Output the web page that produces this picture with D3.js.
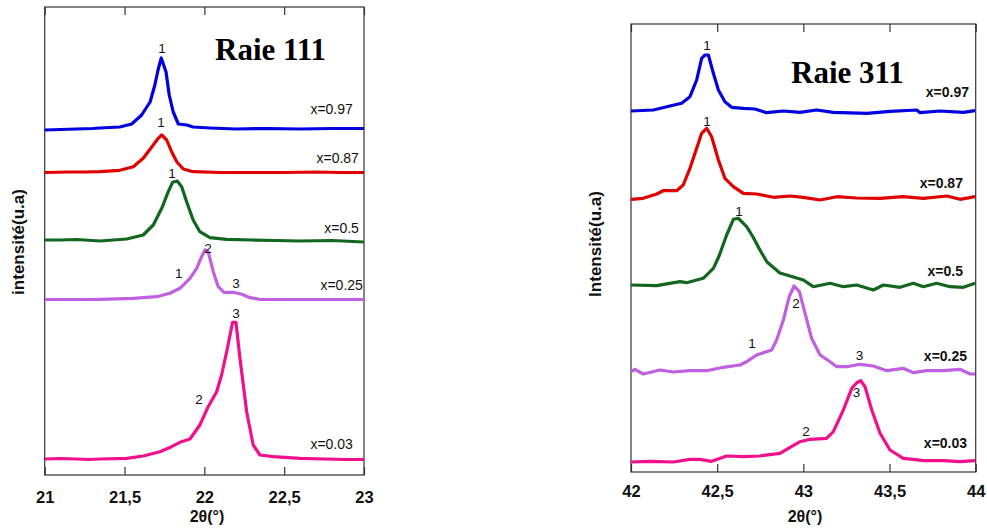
<!DOCTYPE html>
<html><head><meta charset="utf-8">
<script src="https://cdn.jsdelivr.net/npm/d3@7"></script>
<style>body{margin:0;background:#fff}svg{display:block}</style>
</head><body>
<svg id="c" width="987" height="529"></svg>
<script>
// ---------- DATA ----------
const seriesNames = ["x=0.97", "x=0.87", "x=0.5", "x=0.25", "x=0.03"];
const seriesColors = ["#0000e0", "#e00000", "#12661e", "#c060e0", "#f0108c"];

// Raie 111 : 2θ (°) / intensité (u.a, offset stacked)
const t111_097 = [21.0,21.1,21.2,21.3,21.346,21.47,21.545,21.607,21.66,21.69,21.71,21.73,21.76,21.78,21.805,21.837,21.89,21.93,22.035,22.2,22.4,22.6,22.8,23.0];
const i111_097 = [345,345.5,346,346.5,347,348,351,360,373,390,405,417,403,380,363,351,350,348,347,346,346.5,346,346.5,346.5];
const t111_087 = [21.0,21.15,21.25,21.346,21.47,21.555,21.617,21.68,21.711,21.733,21.764,21.795,21.827,21.868,21.93,22.1,22.3,22.5,22.7,22.85,23.0];
const i111_087 = [302.5,303,303,303.3,304.7,308.3,316.7,330,336.7,340,335,323.3,313.3,306,303.3,302.5,302.5,302.5,303,302.5,302.5];
const t111_05 = [21.0,21.1,21.2,21.346,21.513,21.617,21.68,21.733,21.774,21.801,21.83,21.858,21.889,21.93,21.972,22.035,22.14,22.3,22.45,22.6,22.8,23.0];
const i111_05 = [235,235,235.5,234,236,240,250,266.7,283.3,292.7,294,288.3,273.3,255,243.3,237.3,235.7,235,234.5,234,234.5,233];
const t111_025 = [21.0,21.15,21.3,21.346,21.555,21.701,21.785,21.847,21.91,21.952,21.983,22.004,22.024,22.056,22.087,22.123,22.181,22.234,22.286,22.348,22.5,22.7,22.85,23.0];
const i111_025 = [175.5,175.5,175.5,175.7,176.7,178.3,181.7,186.7,196.7,206.7,218.3,225,223.3,203.3,188.3,182.7,182.7,180.7,177.3,175.7,175.5,175.5,175.5,175.5];
const t111_003 = [21.0,21.1,21.2,21.28,21.346,21.513,21.617,21.722,21.795,21.847,21.91,21.972,22.024,22.077,22.108,22.14,22.177,22.198,22.223,22.265,22.306,22.348,22.431,22.6,22.75,22.9,23.0];
const i111_003 = [16,16.5,16,15.5,16,16.7,19,23.3,28.3,32.7,36,50,68.3,83.3,100,123.3,152.7,152.7,116.7,63.3,30,20,18.3,16.7,16,15.5,15.5];

// Raie 311
const t311_097 = [42.0,42.129,42.226,42.294,42.342,42.381,42.41,42.429,42.449,42.478,42.507,42.545,42.584,42.652,42.719,42.787,42.884,42.981,43.077,43.174,43.368,43.503,43.658,43.677,43.793,43.928,43.996];
const i311_097 = [361,362,366,368.7,375.3,392,413.7,417,417,398.7,382,370.3,364.7,363.7,363,359.3,361,359.7,362,359.7,358.7,360.7,362,359.3,361,359.7,361.3];
const t311_087 = [42.0,42.071,42.149,42.187,42.265,42.303,42.342,42.381,42.41,42.439,42.468,42.507,42.545,42.594,42.652,42.729,42.826,42.923,43.0,43.097,43.194,43.31,43.445,43.58,43.696,43.832,43.909,43.996];
const i311_087 = [272.7,273.7,278,281.3,281.3,287,303.7,323.7,338.7,343.7,335.3,312,293.7,285.3,278.7,278,274.7,276,274.7,272,275.3,274,273.7,275.3,273.7,276,272.7,275.3];
const t311_05 = [42.0,42.149,42.284,42.323,42.419,42.478,42.511,42.555,42.594,42.623,42.671,42.708,42.748,42.789,42.864,42.942,43.0,43.058,43.155,43.232,43.31,43.406,43.464,43.561,43.638,43.696,43.774,43.851,43.928,43.996];
const i311_05 = [187,186.3,190.3,189.3,193.7,203.7,216,237,252.7,253.7,245.3,235,222,210,199,195,192,185.3,188.7,185.3,187,182,187,184.7,188.7,185.3,188.7,185.3,184.7,188.7];
const t311_025 = [42.0,42.023,42.071,42.168,42.245,42.342,42.439,42.536,42.632,42.671,42.729,42.816,42.845,42.884,42.918,42.946,42.977,43.01,43.048,43.097,43.135,43.194,43.252,43.329,43.406,43.484,43.58,43.638,43.716,43.812,43.909,43.967,43.996];
const i311_025 = [100.3,102.7,98,102,100,101.3,101.3,104.7,107,110.3,117,122,132,152,175.3,186,180.3,158.7,133.7,117,112.7,105.3,105.3,107.7,106,101.3,103.7,99.3,101.3,101.3,102.7,98,98];
const t311_003 = [42.0,42.11,42.245,42.342,42.4,42.468,42.555,42.652,42.748,42.864,42.923,42.981,43.039,43.135,43.174,43.232,43.281,43.31,43.333,43.358,43.397,43.445,43.503,43.58,43.638,43.696,43.812,43.909,43.996];
const i311_003 = [10,10.7,10,12.7,12.7,10.7,16,15.3,16,18.7,24.7,30.3,32.7,33.7,40.3,62,83.7,89.3,91.3,85.3,62,38.7,22,13.7,12.7,11.3,11.3,10.3,11.3];

// tick labels
const ticks111 = [21, 21.5, 22, 22.5, 23];
const ticks311 = [42, 42.5, 43, 43.5, 44];

// peak annotations [2θ, intensité, label]
const peaks111 = [[21.735,422,"1"],[21.728,348,"1"],[21.797,297,"1"],[22.023,222,"2"],[21.84,197,"1"],[22.198,187,"3"],[22.198,157,"3"],[21.966,71,"2"]];
const peaks311 = [[42.441,422,"1"],[42.441,346,"1"],[42.627,256,"1"],[42.957,164,"2"],[42.702,124,"1"],[43.326,112,"3"],[43.309,75,"3"],[43.015,36,"2"]];
// series label anchors [2θ, intensité]
const labels111 = [[22.93,361],[22.968,312],[22.968,242],[22.993,185],[22.93,26]];
const labels311 = [[43.961,375],[43.926,284],[43.926,196],[43.95,111],[43.95,24]];

// ---------- DRAW ----------
const svg = d3.select("#c");
const fmt = d => String(d).replace(".", ",");
const SANS = "Liberation Sans, Arial, Helvetica, sans-serif";

function panel(cfg) {
  const x = d3.scaleLinear().domain(cfg.xdom).range([cfg.x0, cfg.x1]);
  const y = d3.scaleLinear().domain(cfg.ydom).range([cfg.y1, cfg.y0]);
  const g = svg.append("g");
  const clipId = "clip" + cfg.id;
  svg.append("clipPath").attr("id", clipId).append("rect")
    .attr("x", cfg.x0).attr("y", cfg.y0).attr("width", cfg.x1 - cfg.x0).attr("height", cfg.y1 - cfg.y0);

  // box
  g.append("rect").attr("x", cfg.x0).attr("y", cfg.y0).attr("width", cfg.x1 - cfg.x0)
    .attr("height", cfg.y1 - cfg.y0).attr("fill", "none").attr("stroke", "#333").attr("stroke-width", 1.2);

  // bottom axis
  const ax = g.append("g").attr("transform", `translate(0,${cfg.y1})`)
    .call(d3.axisBottom(x).tickValues(cfg.ticks).tickFormat(fmt).tickSizeInner(-8).tickSizeOuter(0).tickPadding(cfg.pad));
  ax.select(".domain").remove();
  ax.selectAll("line").attr("stroke", "#333").attr("stroke-width", 1.2);
  ax.selectAll("text").attr("font-family", SANS).attr("font-weight", "bold").attr("font-size", 16.5).attr("fill", "#111");
  // top axis
  const at = g.append("g").attr("transform", `translate(0,${cfg.y0})`)
    .call(d3.axisTop(x).tickValues(cfg.ticks).tickFormat("").tickSizeInner(-8).tickSizeOuter(0));
  at.select(".domain").remove();
  at.selectAll("line").attr("stroke", "#333").attr("stroke-width", 1.2);

  // curves
  const line = d3.line().x(d => x(d[0])).y(d => y(d[1])).curve(d3.curveLinear);
  const cg = g.append("g").attr("clip-path", `url(#${clipId})`);
  cfg.series.forEach((s, k) => {
    const pts = s[0].map((t, j) => [t, s[1][j]]);
    cg.append("path").datum(pts).attr("d", line).attr("fill", "none")
      .attr("stroke", seriesColors[k]).attr("stroke-width", 3.2).attr("stroke-linejoin", "round");
  });

  // peak labels
  cfg.peaks.forEach(p => {
    g.append("text").attr("x", x(p[0])).attr("y", y(p[1])).attr("text-anchor", "middle")
      .attr("font-family", SANS).attr("font-size", 13.5).attr("fill", "#111").text(p[2]);
  });
  // series labels
  cfg.labels.forEach((p, k) => {
    g.append("text").attr("x", x(p[0])).attr("y", y(p[1])).attr("text-anchor", "end")
      .attr("font-family", SANS).attr("font-size", 14)
      .attr("font-weight", cfg.boldLabels ? "bold" : "normal").attr("fill", "#111").text(seriesNames[k]);
  });

  // title
  g.append("text").attr("x", cfg.titleX).attr("y", cfg.titleY)
    .attr("font-family", "Liberation Serif, Times New Roman, serif").attr("font-weight", "bold")
    .attr("font-size", 31).attr("fill", "#000").text(cfg.title);
  // x axis title
  g.append("text").attr("x", cfg.xtX).attr("y", 522).attr("text-anchor", "middle")
    .attr("font-family", SANS).attr("font-weight", "bold")
    .attr("font-size", 16).attr("fill", "#111").text("2θ(°)");
  // y axis title
  g.append("text").attr("transform", `translate(${cfg.ytX},${cfg.ytY}) rotate(-90)`).attr("text-anchor", "middle")
    .attr("font-family", SANS).attr("font-weight", "bold")
    .attr("font-size", 17).attr("fill", "#111").text(cfg.ytitle);
}

panel({
  id: "a", xdom: [21, 23], ydom: [0, 468], x0: 44.7, x1: 364, y0: 7, y1: 475, pad: 16.5,
  ticks: ticks111,
  series: [[t111_097, i111_097], [t111_087, i111_087], [t111_05, i111_05], [t111_025, i111_025], [t111_003, i111_003]],
  peaks: peaks111, labels: labels111, boldLabels: false,
  title: "Raie 111", titleX: 215, titleY: 60, xtX: 207, ytX: 24, ytY: 242, ytitle: "intensité(u.a)"
});
panel({
  id: "b", xdom: [42, 44], ydom: [0, 448], x0: 631, x1: 975.7, y0: 24, y1: 472, pad: 13.5,
  ticks: ticks311,
  series: [[t311_097, i311_097], [t311_087, i311_087], [t311_05, i311_05], [t311_025, i311_025], [t311_003, i311_003]],
  peaks: peaks311, labels: labels311, boldLabels: true,
  title: "Raie 311", titleX: 791, titleY: 83, xtX: 805, ytX: 601, ytY: 244, ytitle: "Intensité(u.a)"
});
</script>
</body></html>
